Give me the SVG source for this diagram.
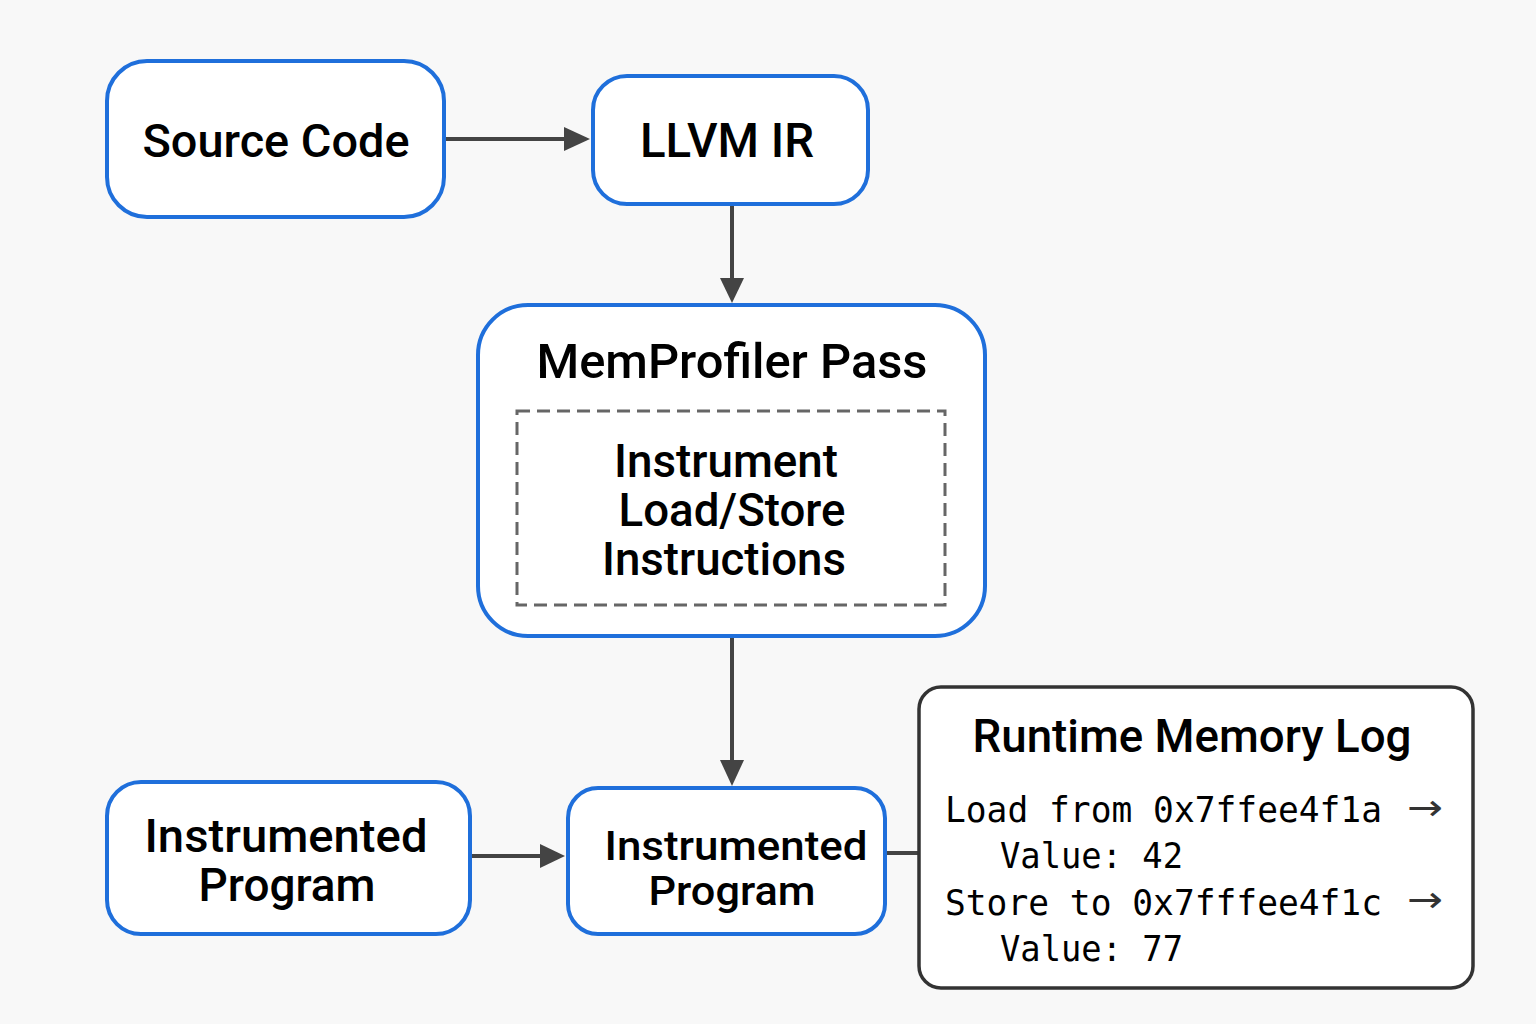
<svg xmlns="http://www.w3.org/2000/svg" width="1536" height="1024" viewBox="0 0 1536 1024">
<defs>
<style>
.node{fill:#ffffff;stroke:#1f6fdb;stroke-width:4}
.log{fill:#ffffff;stroke:#333333;stroke-width:3.5}
.dash{fill:none;stroke:#666666;stroke-width:3;stroke-dasharray:13 7}
.t{font-family:Roboto,"Noto Sans","DejaVu Sans",sans-serif;font-weight:500;fill:#000000;text-anchor:middle}
.m{font-family:"DejaVu Sans Mono","Liberation Mono",monospace;font-size:35px;fill:#000000}
.ar{font-family:"DejaVu Sans",sans-serif;font-size:36px;fill:#333333}
.c{stroke:#444444;stroke-width:4;fill:none}
</style>
</defs>
<rect width="1536" height="1024" fill="#f8f8f8"/>
<g id="connectors">
<line class="c" x1="446" y1="139" x2="566" y2="139"/>
<path d="M564,127 L590,139 L564,151 Z" fill="#444444"/>
<line class="c" x1="732" y1="205" x2="732" y2="280"/>
<path d="M720,278 L732,303 L744,278 Z" fill="#444444"/>
<line class="c" x1="732" y1="637" x2="732" y2="762"/>
<path d="M720,760 L732,786 L744,760 Z" fill="#444444"/>
<line class="c" x1="472" y1="856" x2="542" y2="856"/>
<path d="M540,844 L565,856 L540,868 Z" fill="#444444"/>
<line class="c" x1="886" y1="853" x2="919" y2="853"/>
</g>
<g id="source-code">
<rect class="node" x="107" y="61" width="337" height="156" rx="40"/>
<text class="t" x="276" y="157" font-size="46" textLength="267" lengthAdjust="spacingAndGlyphs">Source Code</text>
</g>
<g id="llvm-ir">
<rect class="node" x="593" y="76" width="275" height="128" rx="34"/>
<text class="t" x="727" y="157" font-size="48" textLength="174" lengthAdjust="spacingAndGlyphs">LLVM IR</text>
</g>
<g id="memprofiler-pass">
<rect class="node" x="478" y="305" width="507" height="331" rx="50"/>
<text class="t" x="732" y="378" font-size="48" textLength="391" lengthAdjust="spacingAndGlyphs">MemProfiler Pass</text>
<rect class="dash" x="517" y="411" width="428" height="194"/>
<text class="t" x="726" y="477" font-size="46" font-weight="400" textLength="224" lengthAdjust="spacingAndGlyphs">Instrument</text>
<text class="t" x="732" y="526" font-size="46" font-weight="400" textLength="227" lengthAdjust="spacingAndGlyphs">Load/Store</text>
<text class="t" x="724" y="575" font-size="46" font-weight="400" textLength="244" lengthAdjust="spacingAndGlyphs">Instructions</text>
</g>
<g id="instrumented-program-1">
<rect class="node" x="107" y="782" width="363" height="152" rx="34"/>
<text class="t" x="286" y="852" font-size="46" textLength="283" lengthAdjust="spacingAndGlyphs">Instrumented</text>
<text class="t" x="287" y="901" font-size="46" textLength="177" lengthAdjust="spacingAndGlyphs">Program</text>
</g>
<g id="instrumented-program-2">
<rect class="node" x="568" y="788" width="317" height="146" rx="30"/>
<text class="t" x="736" y="860" font-size="41" textLength="263" lengthAdjust="spacingAndGlyphs">Instrumented</text>
<text class="t" x="732" y="905" font-size="41" textLength="167" lengthAdjust="spacingAndGlyphs">Program</text>
</g>
<g id="runtime-memory-log">
<rect class="log" x="919" y="687" width="554" height="301" rx="22"/>
<text class="t" x="1192" y="752" font-size="46" textLength="439" lengthAdjust="spacingAndGlyphs">Runtime Memory Log</text>
<text class="m" x="945" y="822" textLength="437" lengthAdjust="spacingAndGlyphs">Load from 0x7ffee4f1a</text>
<text class="ar" x="1407" y="820" textLength="36" lengthAdjust="spacingAndGlyphs">→</text>
<text class="m" x="1000" y="868" textLength="183" lengthAdjust="spacingAndGlyphs">Value: 42</text>
<text class="m" x="945" y="915" textLength="437" lengthAdjust="spacingAndGlyphs">Store to 0x7fffee4f1c</text>
<text class="ar" x="1407" y="912" textLength="36" lengthAdjust="spacingAndGlyphs">→</text>
<text class="m" x="1000" y="961" textLength="183" lengthAdjust="spacingAndGlyphs">Value: 77</text>
</g>
</svg>
